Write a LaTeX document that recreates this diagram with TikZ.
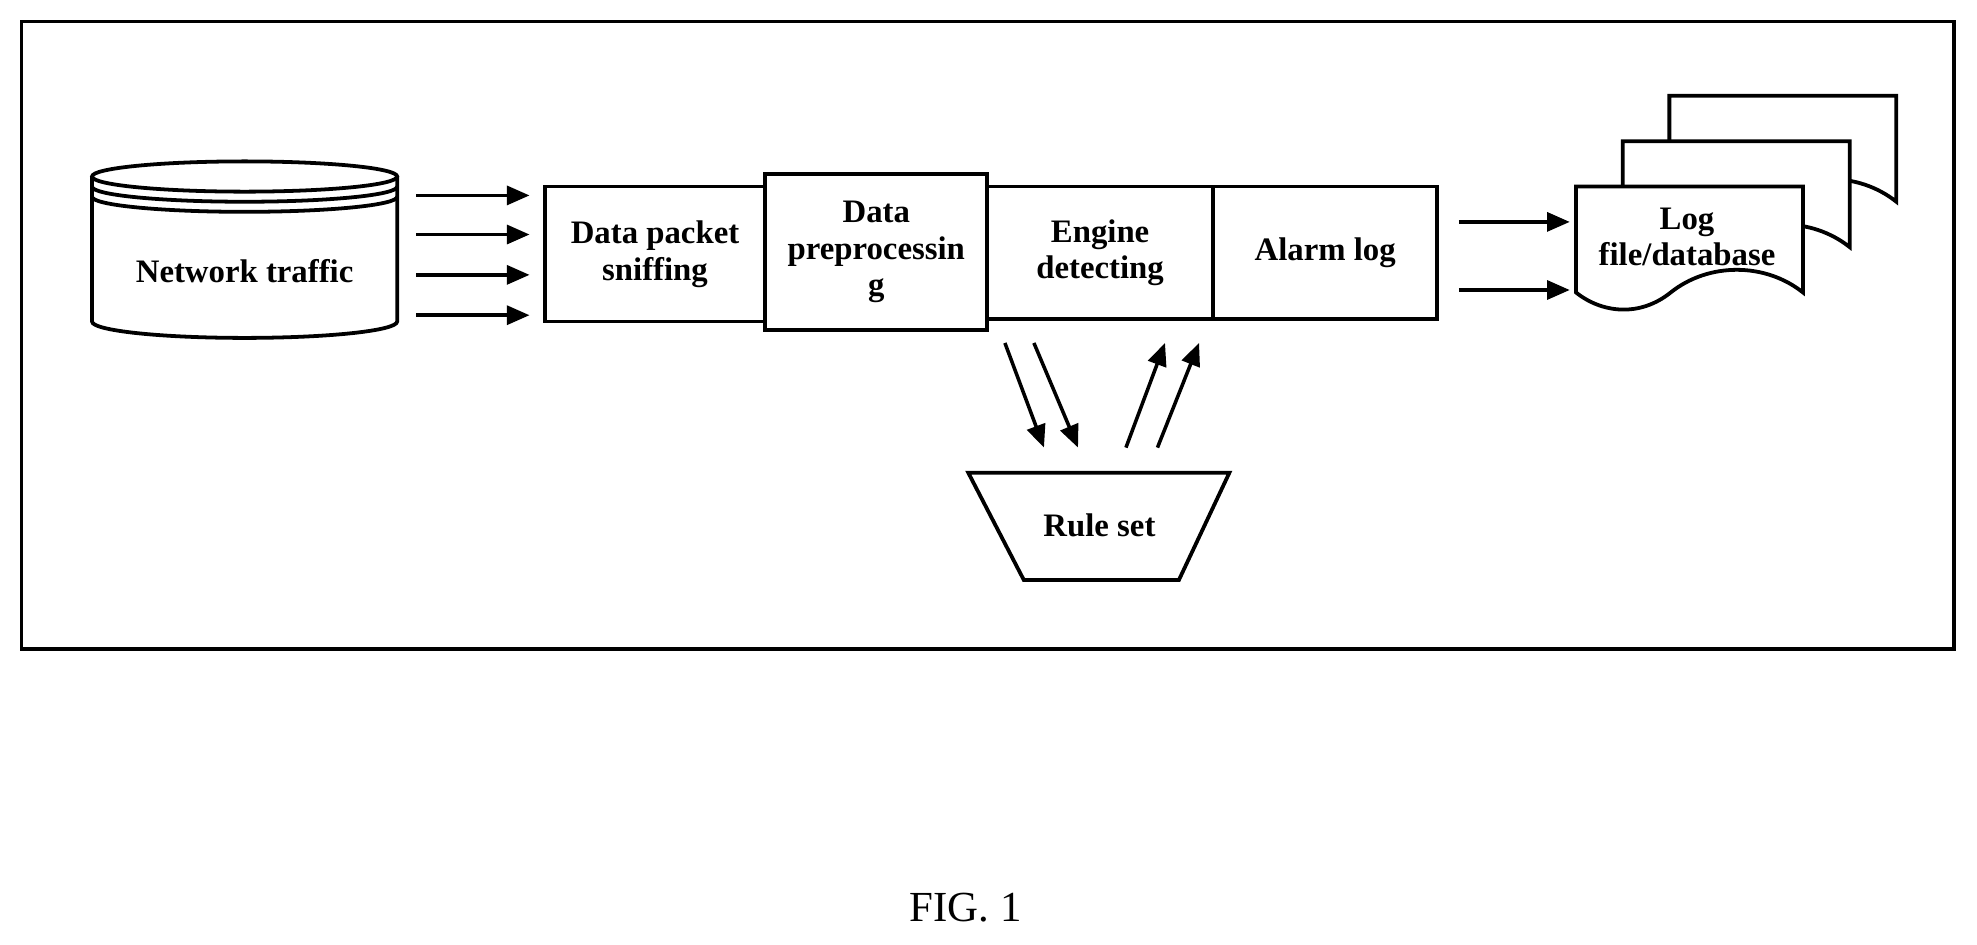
\documentclass[tikz,border=0pt]{standalone}
\usepackage{fontspec}
\setmainfont{Liberation Serif}
\usetikzlibrary{arrows.meta}
\begin{document}
\begin{tikzpicture}[x=0.5pt,y=-0.5pt,
  ln/.style={line width=1.5pt,line join=miter},
  box/.style={ln,draw,fill=white,inner sep=0pt,align=center,font=\fontsize{13}{14.5}\selectfont\bfseries},
  arr/.style={line width=1.4pt,-{Triangle[length=9pt,width=7.5pt]}},
  lbl/.style={font=\fontsize{13}{14.5}\selectfont\bfseries,align=center}]
\useasboundingbox (0,0) rectangle (1568,749);
\draw[ln] (17,17) rectangle (1550,515);
% cylinder
\draw[ln,fill=white] (73,140) -- (73,255) arc[start angle=180,end angle=0,x radius=121,y radius=13] -- (315,140);
\draw[ln] (194,140) ellipse[x radius=121,y radius=12];
\draw[ln] (73,148) arc[start angle=180,end angle=0,x radius=121,y radius=12];
\draw[ln] (73,156) arc[start angle=180,end angle=0,x radius=121,y radius=12];
\node[lbl] (nt) at (194,215) {Network traffic};
% boxes
\node[box,minimum width=87.5pt,minimum height=53.5pt] (dps) at (519.5,201.5) {Data packet\\sniffing};
\node[box,minimum width=88pt,minimum height=62pt] (dpp) at (695,200) {Data\\preprocessin\\g};
\node[box,minimum width=89.5pt,minimum height=52.5pt] (ed) at (872.5,200.5) {Engine\\detecting};
\node[box,minimum width=89pt,minimum height=52.5pt] (al) at (1051,200.5) {Alarm log};
% input arrows
\foreach \y/\n in {155/1,186/2,218/3,250/4}{
  \coordinate (s\n) at (330,\y); \coordinate (e\n) at (420,\y);
  \draw[arr] (s\n) -- (e\n);}
% output arrows
\coordinate (o1) at (1157,176); \coordinate (p1) at (1245,176);
\coordinate (o2) at (1157,230); \coordinate (p2) at (1245,230);
\draw[arr] (o1) -- (p1);
\draw[arr] (o2) -- (p2);
% documents
\foreach \dx/\dy in {74/-72,37/-36,0/0}{
\begin{scope}[shift={(\dx*0.5pt,-\dy*0.5pt)}]
\draw[ln,fill=white] (1250,232) -- (1250,148) -- (1430,148) -- (1430,232)
  .. controls (1400,208) and (1355,208) .. (1325,232)
  .. controls (1300,252) and (1270,248) .. (1250,232) -- cycle;
\end{scope}}
\node[lbl] (log) at (1338,188) {Log\\file/database};
% rule set
\draw[ln] (768,375) -- (975,375) -- (935,460) -- (812,460) -- cycle;
\node[lbl] (rs) at (872,417) {Rule set};
\coordinate (a1) at (797,272); \coordinate (b1) at (828,355);
\coordinate (a2) at (820,272); \coordinate (b2) at (855,355);
\coordinate (c1) at (893,355); \coordinate (d1) at (924,272);
\coordinate (c2) at (918,355); \coordinate (d2) at (951,272);
\draw[arr] (a1) -- (b1);
\draw[arr] (a2) -- (b2);
\draw[arr] (c1) -- (d1);
\draw[arr] (c2) -- (d2);
\node[font=\fontsize{17}{20}\selectfont] (fig) at (766,720) {FIG. 1};
\end{tikzpicture}
\end{document}
